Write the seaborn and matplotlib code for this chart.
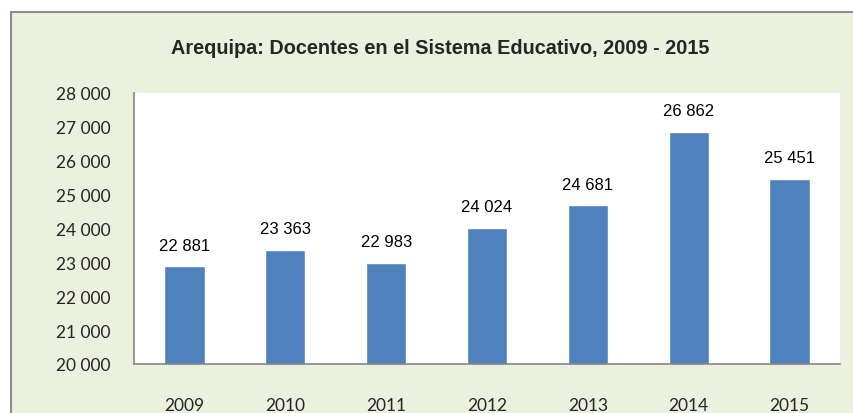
import matplotlib
matplotlib.use("Agg")
import matplotlib.pyplot as plt
import seaborn as sns
import pandas as pd
from matplotlib.patches import Rectangle

years = ["2009", "2010", "2011", "2012", "2013", "2014", "2015"]
docentes = [22881, 23363, 22983, 24024, 24681, 26862, 25451]
yticks = [20000, 21000, 22000, 23000, 24000, 25000, 26000, 27000, 28000]

df = pd.DataFrame({"anio": years, "docentes": docentes})

sns.set_theme(style="white")
bg = "#EBF1DE"
bar_color = "#4F81BD"
narrow = ["Liberation Sans Narrow", "Liberation Sans", "DejaVu Sans"]
tickfont = ["Lato", "DejaVu Sans"]


def fmt(v):
    return f"{v:,}".replace(",", " ")


fig = plt.figure(figsize=(8.54, 4.14), dpi=100, facecolor=bg)
# white strip above the chart frame, and the frame itself
fig.patches.append(Rectangle((0, 1 - 13 / 414), 1, 13 / 414, transform=fig.transFigure,
                             facecolor="white", edgecolor="none", zorder=0))
fig.patches.append(Rectangle((0, 0), 11 / 854, 1, transform=fig.transFigure,
                             facecolor="white", edgecolor="none", zorder=0))
fig.patches.append(Rectangle((11 / 854, -0.1), 1.2, 1.1 - 13 / 414, transform=fig.transFigure,
                             facecolor="none", edgecolor="#8C8C8C", linewidth=1.5, zorder=1))

ax = fig.add_axes([134 / 854, 1 - 365 / 414, (840 - 134) / 854, (365 - 94) / 414])
ax.set_facecolor("white")

sns.barplot(data=df, x="anio", y="docentes", color=bar_color, width=0.4,
            saturation=1, ax=ax)

for i, v in enumerate(docentes):
    ax.annotate(fmt(v), (i, v), xytext=(0, 10), textcoords="offset points",
                ha="center", va="bottom", fontsize=12, family=narrow, color="black")

ax.set_ylim(20000, 28000)
ax.set_yticks(yticks)
ax.set_yticklabels([fmt(t) for t in yticks], family=tickfont, fontsize=12.5)
ax.set_xticks(range(len(years)))
ax.set_xticklabels(years, family=tickfont, fontsize=12.5)
ax.tick_params(axis="y", length=0, pad=17)
ax.tick_params(axis="x", length=0, pad=24)
ax.set_xlabel("")
ax.set_ylabel("")

for side in ["top", "right"]:
    ax.spines[side].set_visible(False)
for side in ["left", "bottom"]:
    ax.spines[side].set_color("#868686")
    ax.spines[side].set_linewidth(1.2)

fig.text(440 / 854, 1 - 48 / 414, "Arequipa: Docentes en el Sistema Educativo, 2009 - 2015",
         ha="center", va="center", fontsize=14.3, fontweight="bold", family=narrow)

fig.savefig("out.png", dpi=100, facecolor=bg)
